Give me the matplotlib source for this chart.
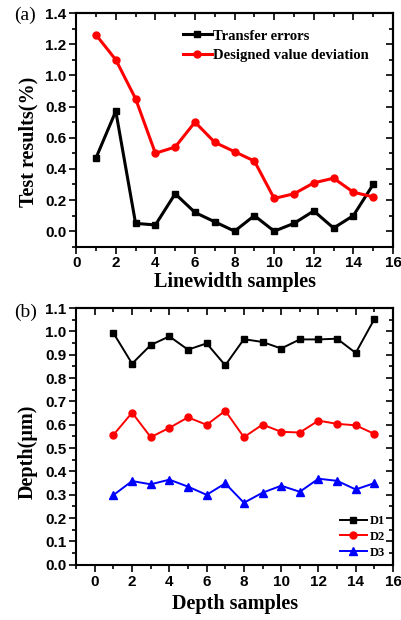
import matplotlib
matplotlib.use("Agg")
import matplotlib.pyplot as plt
from matplotlib.ticker import MultipleLocator

# panel (a) data
linewidthSamples = list(range(1, 16))
transferErrors = [0.47, 0.77, 0.05, 0.04, 0.24, 0.12, 0.06, 0.00, 0.10, 0.00,
                  0.05, 0.13, 0.02, 0.10, 0.30]
designedDeviation = [1.26, 1.10, 0.85, 0.50, 0.54, 0.70, 0.57, 0.51, 0.45, 0.21,
                     0.24, 0.31, 0.34, 0.25, 0.22]

# panel (b) data
depthSamples = list(range(1, 16))
d1 = [0.993, 0.862, 0.942, 0.979, 0.922, 0.949, 0.855, 0.967, 0.955, 0.927,
      0.966, 0.966, 0.969, 0.908, 1.053]
d2 = [0.557, 0.652, 0.547, 0.587, 0.632, 0.600, 0.660, 0.547, 0.601, 0.570,
      0.567, 0.618, 0.604, 0.598, 0.561]
d3 = [0.299, 0.359, 0.345, 0.365, 0.335, 0.300, 0.349, 0.266, 0.309, 0.339,
      0.313, 0.369, 0.360, 0.323, 0.350]

tickFont = {"family": "Liberation Sans", "weight": "bold", "size": 11}
labelFont = {"family": "Liberation Serif", "weight": "bold", "size": 14.5}


def styleAxes(ax):
    for spine in ax.spines.values():
        spine.set_linewidth(1.5)
    ax.tick_params(which="both", width=1.2, direction="out", pad=2)
    ax.tick_params(which="major", length=5)
    ax.tick_params(which="minor", length=3)
    # top / right ticks point inwards like Origin
    axTop = ax.secondary_xaxis("top")
    axTop.set_xticks(ax.get_xticks())
    axTop.xaxis.set_minor_locator(ax.xaxis.get_minor_locator())
    axTop.tick_params(which="both", direction="in", labeltop=False, width=1.2)
    axTop.tick_params(which="major", length=5)
    axTop.tick_params(which="minor", length=3)
    axTop.spines["top"].set_linewidth(1.5)
    axRight = ax.secondary_yaxis("right")
    axRight.set_yticks(ax.get_yticks())
    axRight.yaxis.set_minor_locator(ax.yaxis.get_minor_locator())
    axRight.tick_params(which="both", direction="in", labelright=False, width=1.2)
    axRight.tick_params(which="major", length=5)
    axRight.tick_params(which="minor", length=3)
    axRight.spines["right"].set_linewidth(1.5)
    for lbl in ax.get_xticklabels() + ax.get_yticklabels():
        lbl.set_fontfamily(tickFont["family"])
        lbl.set_fontweight(tickFont["weight"])
        lbl.set_fontsize(tickFont["size"])


fig = plt.figure(figsize=(4.01, 6.2), dpi=100)

# (a)
ax1 = fig.add_axes([0.19, 0.602, 0.79, 0.377])
ax1.plot(linewidthSamples, transferErrors, color="black", linewidth=2.2,
         marker="s", markersize=5, label="Transfer errors")
ax1.plot(linewidthSamples, designedDeviation, color="red", linewidth=2.2,
         marker="o", markersize=5, label="Designed value deviation")
ax1.set_xlim(0, 16)
ax1.set_ylim(-0.1, 1.4)
ax1.xaxis.set_major_locator(MultipleLocator(2))
ax1.xaxis.set_minor_locator(MultipleLocator(1))
ax1.set_yticks([0.0, 0.2, 0.4, 0.6, 0.8, 1.0, 1.2, 1.4])
ax1.set_yticklabels(["0.0", "0.2", "0.4", "0.6", "0.8", "1.0", "1.2", "1.4"])
ax1.yaxis.set_minor_locator(MultipleLocator(0.1))
ax1.set_xlabel("Linewidth samples", fontdict=labelFont, labelpad=1)
ax1.set_ylabel("Test results(%)", fontdict=labelFont)
ax1.yaxis.set_label_coords(-0.12, 0.45)
styleAxes(ax1)
ax1.legend(loc="upper left", bbox_to_anchor=(0.318, 0.955), frameon=False,
           handlelength=2.0, handletextpad=0.08, borderaxespad=0.0,
           labelspacing=0.45,
           prop={"family": "Liberation Serif", "weight": "bold", "size": 10.5})
fig.text(0.035, 0.975, "(a)", fontfamily="Liberation Serif", fontsize=14,
         va="center")

# (b)
ax2 = fig.add_axes([0.19, 0.089, 0.79, 0.414])
ax2.plot(depthSamples, d1, color="black", linewidth=1.4, marker="s",
         markersize=5, label="D1")
ax2.plot(depthSamples, d2, color="red", linewidth=1.4, marker="o",
         markersize=5, label="D2")
ax2.plot(depthSamples, d3, color="blue", linewidth=1.4, marker="^",
         markersize=5.5, label="D3")
ax2.set_xlim(-1, 16)
ax2.set_ylim(0, 1.1)
ax2.set_xticks([0, 2, 4, 6, 8, 10, 12, 14, 16])
ax2.xaxis.set_minor_locator(MultipleLocator(1))
ax2.set_yticks([0.0, 0.1, 0.2, 0.3, 0.4, 0.5, 0.6, 0.7, 0.8, 0.9, 1.0, 1.1])
ax2.set_yticklabels(["0.0", "0.1", "0.2", "0.3", "0.4", "0.5", "0.6", "0.7",
                     "0.8", "0.9", "1.0", "1.1"])
ax2.yaxis.set_minor_locator(MultipleLocator(0.05))
ax2.set_xlabel("Depth samples", fontdict=labelFont, labelpad=4)
ax2.set_ylabel("Depth(\u03bcm)", fontdict=labelFont)
ax2.yaxis.set_label_coords(-0.123, 0.44)
styleAxes(ax2)
ax2.legend(loc="lower right", bbox_to_anchor=(0.99, 0.005), frameon=False,
           handlelength=2.2, handletextpad=0.2, borderaxespad=0.0,
           labelspacing=0.3,
           prop={"family": "Liberation Serif", "weight": "bold", "size": 9})
fig.text(0.035, 0.497, "(b)", fontfamily="Liberation Serif", fontsize=14,
         va="center")

plt.savefig("out.png", dpi=100)
plt.close()
